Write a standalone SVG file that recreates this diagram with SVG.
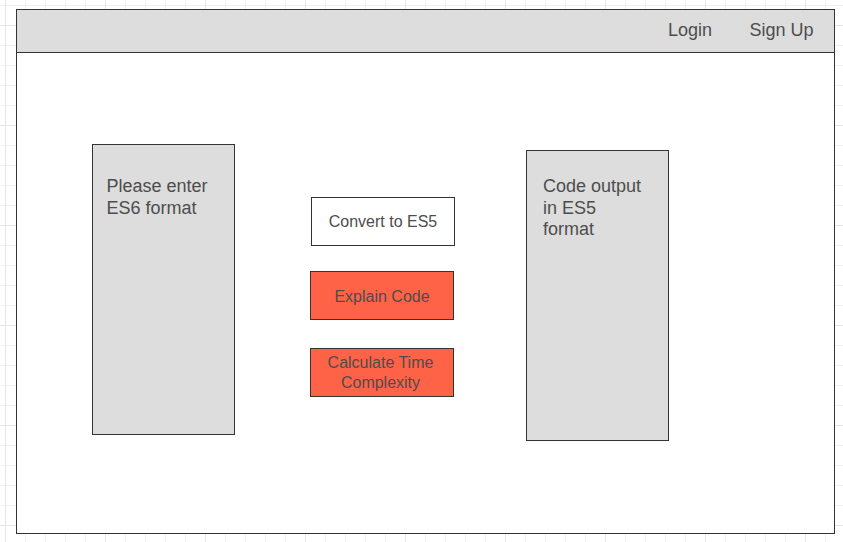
<svg xmlns="http://www.w3.org/2000/svg" width="843" height="542" viewBox="0 0 843 542">
  <defs>
    <pattern id="minor" x="5" y="5" width="20" height="20" patternUnits="userSpaceOnUse">
      <path d="M0.5 0V20M0 0.5H20" fill="none" stroke="#f0f0f0" stroke-width="1"/>
    </pattern>
    <pattern id="major" x="5" y="25" width="100" height="100" patternUnits="userSpaceOnUse">
      <path d="M0.5 0V100M0 0.5H100" fill="none" stroke="#e6e6e6" stroke-width="1"/>
    </pattern>
  </defs>
  <style>
    .frame { fill: #ffffff; stroke: #333333; stroke-width: 1; }
    .gray { fill: #dddddd; stroke: #333333; stroke-width: 1; }
    .btn { fill: #ffffff; stroke: #333333; stroke-width: 1; }
    .red { fill: #ff6347; stroke: #333333; stroke-width: 1; }
    .lbl { font-family: "Liberation Sans", Arial, sans-serif; font-size: 18px; fill: #4d4d4d; }
    .blbl { font-family: "Liberation Sans", Arial, sans-serif; font-size: 16px; fill: #4d4d4d; text-anchor: middle; }
  </style>
  <rect width="843" height="542" fill="#ffffff"/>
  <rect width="843" height="542" fill="url(#minor)"/>
  <rect width="843" height="542" fill="url(#major)"/>

  <g id="window">
    <rect class="frame" x="16.5" y="9.5" width="818" height="524"/>
  </g>
  <g id="header">
    <rect class="gray" x="16.5" y="9.5" width="818" height="43"/>
    <text class="lbl" x="668" y="35.5">Login</text>
    <text class="lbl" x="749.5" y="35.5">Sign Up</text>
  </g>
  <g id="input-box">
    <rect class="gray" x="92.5" y="144.5" width="142" height="290"/>
    <text class="lbl" x="106.5" y="192">Please enter</text>
    <text class="lbl" x="106.5" y="214">ES6 format</text>
  </g>
  <g id="convert-btn">
    <rect class="btn" x="311.5" y="197.5" width="143" height="48"/>
    <text class="blbl" x="383" y="227">Convert to ES5</text>
  </g>
  <g id="explain-btn">
    <rect class="red" x="310.5" y="271.5" width="143" height="48"/>
    <text class="blbl" x="382" y="301.5">Explain Code</text>
  </g>
  <g id="complexity-btn">
    <rect class="red" x="310.5" y="348.5" width="143" height="48"/>
    <text class="blbl" x="380.5" y="368">Calculate Time</text>
    <text class="blbl" x="380.5" y="388">Complexity</text>
  </g>
  <g id="output-box">
    <rect class="gray" x="526.5" y="150.5" width="142" height="290"/>
    <text class="lbl" x="543" y="192">Code output</text>
    <text class="lbl" x="543" y="213.5">in ES5</text>
    <text class="lbl" x="543" y="235">format</text>
  </g>
  <g id="connectors"></g>
</svg>
